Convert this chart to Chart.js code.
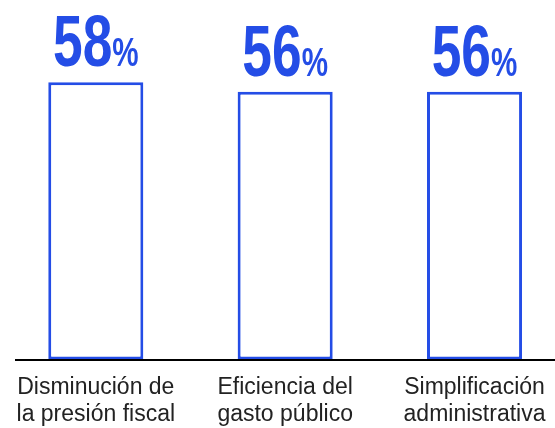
<!DOCTYPE html>
<html><head><meta charset="utf-8">
<script src="https://cdn.jsdelivr.net/npm/chart.js@4.4.0/dist/chart.umd.min.js"></script>
<style>html,body{margin:0;padding:0;background:#fff}#wrap{width:555px;height:428px;position:relative}</style>
</head><body><div id="wrap"><canvas id="c"></canvas></div>
<script>
const categories = [['Disminución de', 'la presión fiscal'], ['Eficiencia del', 'gasto público'], ['Simplificación', 'administrativa']];
const values = [58, 56, 56];
const positions = [0, 1, 2];
const valueSuffix = '%';

const BLUE = '#244DE6';
const NUM_FONT = '"Liberation Sans", Arial, sans-serif';

const valueLabels = {
  id: 'valueLabels',
  afterDatasetsDraw(chart) {
    const ctx = chart.ctx;
    const meta = chart.getDatasetMeta(0);
    meta.data.forEach((bar, i) => {
      const num = String(values[i]);
      const sx = 0.74;
      ctx.save();
      ctx.fillStyle = BLUE;
      ctx.textBaseline = 'alphabetic';
      ctx.textAlign = 'left';
      ctx.font = 'bold 72px ' + NUM_FONT;
      const w1 = ctx.measureText(num).width;
      ctx.font = 'bold 40px ' + NUM_FONT;
      const w2 = ctx.measureText(valueSuffix).width;
      const total = (w1 + w2) * sx;
      ctx.translate(bar.x - total / 2, bar.y - 16);
      ctx.scale(sx, 1);
      ctx.font = 'bold 72px ' + NUM_FONT;
      ctx.fillText(num, 0, 0);
      ctx.font = 'bold 40px ' + NUM_FONT;
      ctx.fillText(valueSuffix, w1, 0);
      ctx.restore();
    });
  }
};

new Chart(document.getElementById('c'), {
  type: 'bar',
  data: {
    datasets: [{
      data: positions.map((x, i) => ({ x: x, y: values[i] })),
      backgroundColor: '#ffffff',
      borderColor: BLUE,
      borderWidth: 3,
      borderSkipped: false,
      barPercentage: 0.502,
      categoryPercentage: 1
    }]
  },
  options: {
    responsive: true,
    maintainAspectRatio: false,
    animation: false,
    layout: { padding: { left: 16, right: 0, top: 0, bottom: 0 } },
    plugins: { legend: { display: false }, tooltip: { enabled: false } },
    scales: {
      x: {
        type: 'linear',
        min: -0.4214,
        max: 2.425,
        offset: false,
        grid: { display: false },
        border: { display: true, color: '#000', width: 2, z: 1 },
        ticks: {
          autoSkip: false,
          maxRotation: 0,
          minRotation: 0,
          padding: 6,
          color: '#222',
          font: { family: '"Liberation Sans", Arial, sans-serif', size: 23, lineHeight: 1.2 },
          callback: (v, i) => categories[i]
        },
        afterBuildTicks: s => { s.ticks = positions.map(v => ({ value: v })); },
        afterFit: s => { s.height = 428 - 359.5; s.paddingLeft = 0; s.paddingRight = 0; }
      },
      y: { display: false, min: 0, max: 75.2 }
    }
  },
  plugins: [valueLabels]
});
</script>
</body></html>
